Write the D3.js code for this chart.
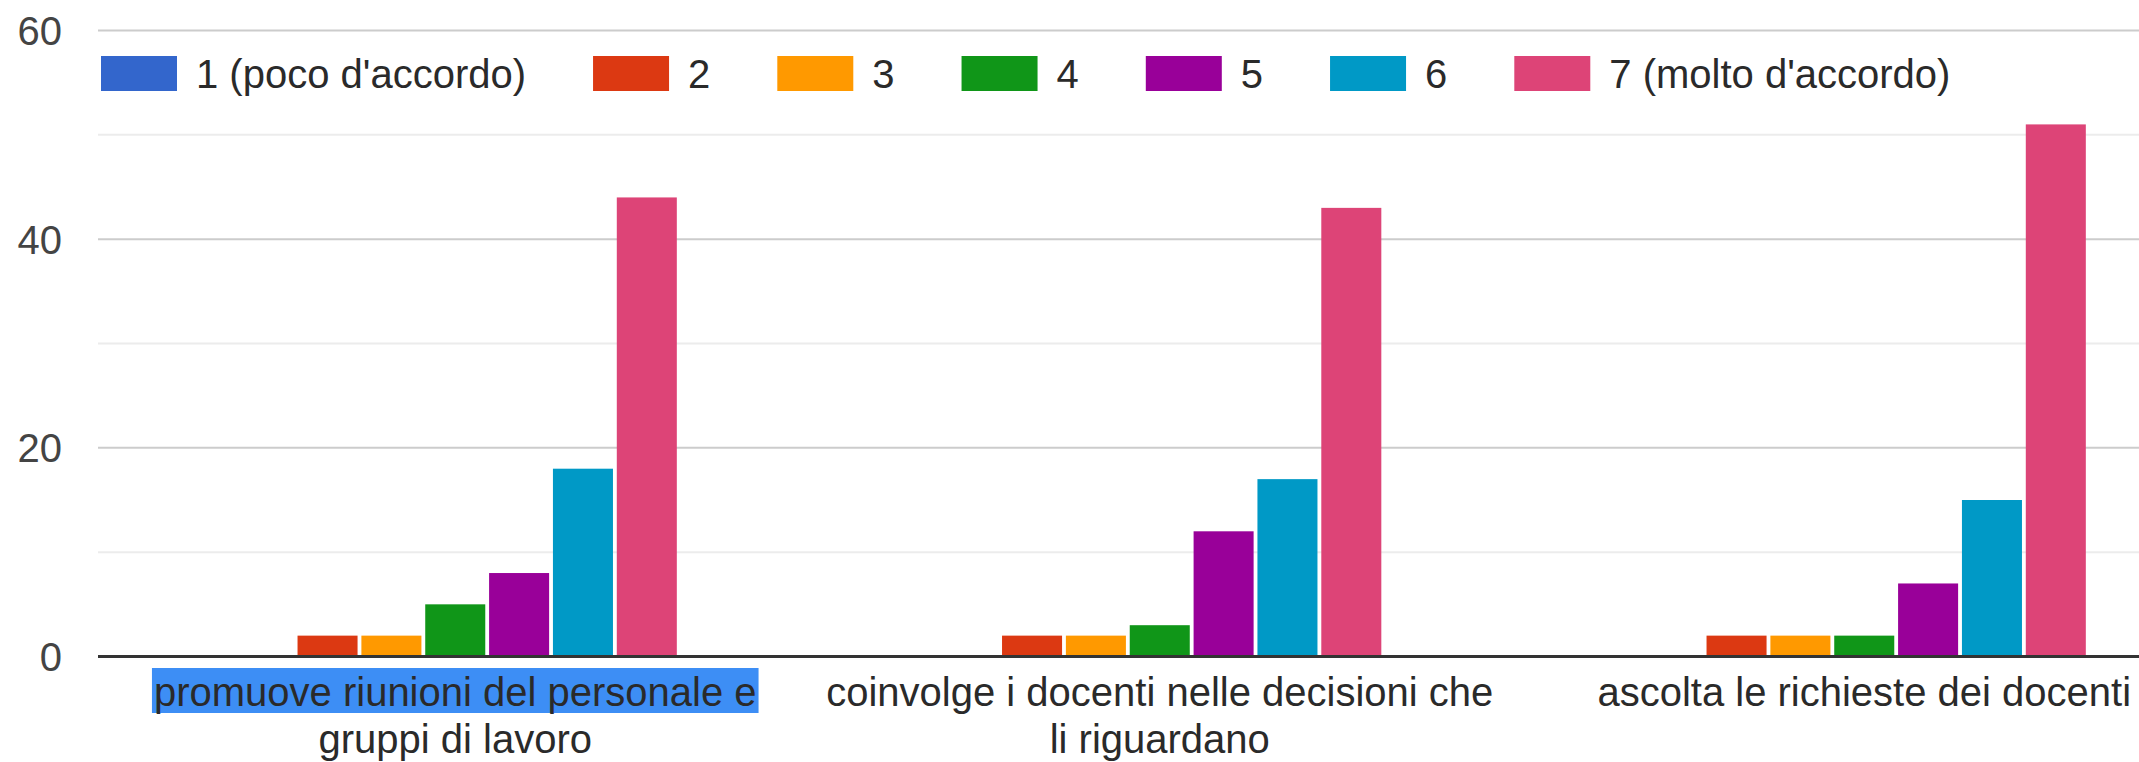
<!DOCTYPE html>
<html><head><meta charset="utf-8">
<script src="https://cdn.jsdelivr.net/npm/d3@7"></script>
<style>html,body{margin:0;padding:0;background:#fff;overflow:hidden}</style>
</head><body><svg id="chart" width="2139" height="762"></svg>
<script>
// ---- data ----
const categories = [
  "promuove riunioni del personale e gruppi di lavoro",
  "coinvolge i docenti nelle decisioni che li riguardano",
  "ascolta le richieste dei docenti"
];
const seriesNames = ["1 (poco d'accordo)", "2", "3", "4", "5", "6", "7 (molto d'accordo)"];
const seriesColors = ["#3366cc", "#dc3912", "#ff9900", "#109618", "#990099", "#0099c6", "#dd4477"];
const s1 = [0, 0, 0];
const s2 = [2, 2, 2];
const s3 = [2, 2, 2];
const s4 = [5, 3, 2];
const s5 = [8, 12, 7];
const s6 = [18, 17, 15];
const s7 = [44, 43, 51];
const seriesValues = [s1, s2, s3, s4, s5, s6, s7];
const majorTicks = [0, 20, 40, 60];
const minorTicks = [10, 30, 50];

// ---- layout ----
const W = 2139, H = 762;
const FONT = "'Liberation Sans', Arial, sans-serif";
const svg = d3.select("#chart");
svg.append("rect").attr("width", W).attr("height", H).attr("fill", "#fff");

const gridLeft = 98;
const step = 704.5;
const plotLeft = 103;
const y = d3.scaleLinear().domain([0, 60]).range([656.5, 30.5]);
const x0 = d3.scaleBand().domain(categories)
  .range([plotLeft, plotLeft + step * categories.length])
  .paddingInner(0.371).paddingOuter(0.1855);
const x1 = d3.scaleBand().domain(seriesNames)
  .range([0, x0.bandwidth()]).paddingInner(0.06);

// gridlines
svg.append("g").selectAll("line").data(minorTicks).join("line")
  .attr("x1", gridLeft).attr("x2", W)
  .attr("y1", d => y(d)).attr("y2", d => y(d))
  .attr("stroke", "#ececec").attr("stroke-width", 2);
svg.append("g").selectAll("line").data(majorTicks.filter(d => d !== 0)).join("line")
  .attr("x1", gridLeft).attr("x2", W)
  .attr("y1", d => y(d)).attr("y2", d => y(d))
  .attr("stroke", "#cccccc").attr("stroke-width", 2);

// y axis labels
const yAxis = d3.axisLeft(y).tickValues(majorTicks).tickSize(0).tickPadding(0).tickFormat(d3.format("d"));
const ya = svg.append("g").attr("transform", "translate(62,0)").call(yAxis);
ya.select(".domain").remove();
ya.selectAll("text").attr("font-family", FONT).attr("font-size", 40).attr("fill", "#444")
  .attr("dy", "0.35em");

// bars
const groups = svg.append("g").selectAll("g").data(categories).join("g")
  .attr("transform", d => `translate(${x0(d)},0)`);
groups.selectAll("rect")
  .data((c, ci) => seriesNames.map((s, si) => ({ s, si, v: seriesValues[si][ci] })))
  .join("rect")
  .attr("x", d => x1(d.s))
  .attr("width", x1.bandwidth())
  .attr("y", d => y(d.v))
  .attr("height", d => y(0) - y(d.v))
  .attr("fill", d => seriesColors[d.si]);

// baseline
svg.append("line").attr("x1", gridLeft).attr("x2", W)
  .attr("y1", y(0)).attr("y2", y(0))
  .attr("stroke", "#333").attr("stroke-width", 3);

// x labels (wrapped)
const measure = svg.append("text").attr("font-family", FONT).attr("font-size", 40).attr("visibility", "hidden");
function textW(t) { measure.text(t); return measure.node().getComputedTextLength(); }
function wrap(str, maxW) {
  const words = str.split(" "); const lines = []; let cur = "";
  words.forEach(w => {
    const t = cur ? cur + " " + w : w;
    if (cur && textW(t) > maxW) { lines.push(cur); cur = w; } else cur = t;
  });
  if (cur) lines.push(cur);
  return lines;
}
const lineBase = 706, lineGap = 47;
categories.forEach((c, ci) => {
  const cx = x0(c) + x0.bandwidth() / 2;
  const lines = wrap(c, 685);
  lines.forEach((ln, li) => {
    if (ci === 0 && li === 0) {
      const w = textW(ln);
      svg.append("rect").attr("x", cx - w / 2 - 2).attr("y", lineBase - 38)
        .attr("width", w + 4).attr("height", 45).attr("fill", "#3d8ef5");
    }
    svg.append("text").attr("x", cx).attr("y", lineBase + li * lineGap)
      .attr("text-anchor", "middle").attr("font-family", FONT).attr("font-size", 40)
      .attr("fill", "#2a2a2a").text(ln);
  });
});

// legend
const leg = svg.append("g");
let lx = 101;
seriesNames.forEach((s, i) => {
  leg.append("rect").attr("x", lx).attr("y", 56).attr("width", 76).attr("height", 35)
    .attr("fill", seriesColors[i]);
  const tx = lx + 76 + 19;
  leg.append("text").attr("x", tx).attr("y", 88).attr("font-family", FONT)
    .attr("font-size", 40).attr("fill", "#2a2a2a").text(s);
  lx = tx + textW(s) + 67;
});
measure.remove();
</script>
</body></html>
